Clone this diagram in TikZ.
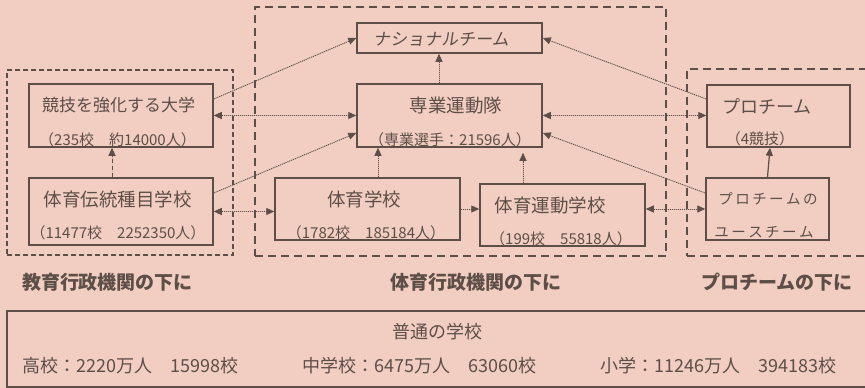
\documentclass[tikz,border=0pt]{standalone}
\usepackage{fontspec}
\setmainfont{Noto Sans CJK JP}
\usetikzlibrary{arrows.meta}
\definecolor{bg}{RGB}{241,206,193}
\definecolor{ink}{RGB}{94,78,72}
\begin{document}
\begin{tikzpicture}[x=1pt,y=-1pt,
  box/.style={draw=ink,line width=1.5pt,inner sep=0pt,shape=rectangle},
  bigdash/.style={draw=ink,line width=1.2pt,dash pattern=on 8pt off 5pt,inner sep=0pt,shape=rectangle},
  smalldash/.style={draw=ink,line width=1.1pt,dash pattern=on 5pt off 3pt,inner sep=0pt,shape=rectangle},
  tip/.style={-{Triangle[length=8pt,width=7pt]}},
  dtip/.style={{Triangle[length=8pt,width=7pt]}-{Triangle[length=8pt,width=7pt]}},
  dotline/.style={draw=ink,fill=ink,line width=0.9pt,dash pattern=on 1pt off 1pt},
  dashline/.style={draw=ink,fill=ink,line width=1pt,dash pattern=on 4pt off 3pt},
  solidline/.style={draw=ink,fill=ink,line width=1.2pt},
  title/.style={text=ink,inner sep=0pt,font=\fontsize{18.5}{21}\selectfont},
  sub/.style={text=ink,inner sep=0pt,font=\fontsize{15}{18}\selectfont},
  grp/.style={text=ink,inner sep=0pt,font=\fontsize{19}{22}\selectfont\bfseries},
  row/.style={text=ink,inner sep=0pt,anchor=west,font=\fontsize{18}{21}\selectfont}]
\useasboundingbox (0,0) rectangle (865,388);
\fill[bg] (0,0) rectangle (865,388);

% group frames
\node[smalldash,minimum width=226pt,minimum height=185pt] (g1) at (120,162.5) {};
\node[bigdash,minimum width=411pt,minimum height=249pt] (g2) at (460.5,131.5) {};
\node[bigdash,minimum width=185pt,minimum height=187pt] (g3) at (779.5,162.5) {};

% boxes
\node[box,minimum width=184pt,minimum height=63pt] (k) at (121,115.5) {};
\node[box,minimum width=184pt,minimum height=67pt] (t) at (121,211.5) {};
\node[box,minimum width=185pt,minimum height=30pt] (n) at (449.5,38) {};
\node[box,minimum width=185pt,minimum height=63pt] (z) at (449.5,115.5) {};
\node[box,minimum width=185pt,minimum height=62pt] (s) at (367.5,209) {};
\node[box,minimum width=165pt,minimum height=62pt] (u) at (562.5,215) {};
\node[box,minimum width=143pt,minimum height=62pt] (p) at (778.5,116) {};
\node[box,minimum width=123pt,minimum height=62pt] (y) at (767.5,209) {};

% texts in boxes
\node[title,font=\fontsize{17}{20}\selectfont] (kt) at (118.5,105) {競技を強化する大学};
\node[sub] (ks) at (117.5,140) {（235校　約14000人）};
\node[title] (tt) at (117.5,199) {体育伝統種目学校};
\node[sub] (ts) at (118,233) {（11477校　2252350人）};
\node[title,font=\fontsize{17}{20}\selectfont\addfontfeature{FakeSlant=0.15}] (nt) at (441,39) {ナショナルチーム};
\node[title] (zt) at (456,106) {専業運動隊};
\node[sub] (zs) at (450,140) {（専業選手：21596人）};
\node[title] (st) at (364,199) {体育学校};
\node[sub] (ss) at (366,233) {（1782校　185184人）};
\node[title] (ut) at (550,205) {体育運動学校};
\node[sub] (us) at (561,239) {（199校　55818人）};
\node[title,font=\fontsize{18}{21}\selectfont] (pt) at (767,106) {プロチーム};
\node[sub] (ps) at (760,139) {（4競技）};
\node[sub,font=\fontsize{14.5}{17}\selectfont] (yt) at (768,199) {プ\,ロ\,チ\,ー\,ム\,の};
\node[sub,font=\fontsize{14.5}{17}\selectfont] (ys) at (764,232) {ユ\,ー\,ス\,チ\,ー\,ム};

% group labels
\node[grp] (l1) at (107.5,282) {教育行政機関の下に};
\node[grp] (l2) at (476,282) {体育行政機関の下に};
\node[grp] (l3) at (777,282) {プロチームの下に};

% bottom box
\node[draw=ink,line width=1.2pt,inner sep=0pt,minimum width=865pt,minimum height=76pt] (b) at (439.5,349) {};
\node[title,font=\fontsize{18}{21}\selectfont] (bt) at (437,332) {普通の学校};
\node[row] (r1) at (22,366) {高校：2220万人　15998校};
\node[row] (r2) at (302,366) {中学校：6475万人　63060校};
\node[row] (r3) at (600,366) {小学：11246万人　394183校};

% connectors
\draw[dotline,dtip] (k.east) -- (z.west);
\draw[dotline,tip] ([yshift=16.5pt]k.east) -- (n.west);
\draw[dotline,tip] ([yshift=18.5pt]t.east) -- ([yshift=-17.5pt]z.west);
\draw[dashline,tip] ([xshift=-9pt]t.north) -- ([xshift=-9pt]k.south);
\draw[dotline,dtip] (t.east) -- (t.east -| s.west);
\draw[dotline,tip] ([xshift=10.5pt]s.north) -- ([xshift=10.5pt]s.north |- z.south);
\draw[dotline,tip] (s.east) -- (s.east -| u.west);
\draw[dotline,tip,shorten >=5pt] ([xshift=-39.5pt]u.north) -- ([xshift=-39.5pt]u.north |- z.south);
\draw[dotline,tip] ([xshift=-10.5pt]z.north) -- ([xshift=-10.5pt]n.south);
\draw[dotline,dtip] (z.east) -- (z.east -| p.west);
\draw[dotline,tip] ([yshift=17pt]p.west) -- (n.east);
\draw[dotline,tip] ([yshift=16pt]y.west) -- ([yshift=-17.5pt]z.east);
\draw[dotline,dtip] (y.west -| u.east) -- (y.west);
\draw[solidline,tip] (y.north) -- ([xshift=-8.5pt]p.south);
\end{tikzpicture}
\end{document}
